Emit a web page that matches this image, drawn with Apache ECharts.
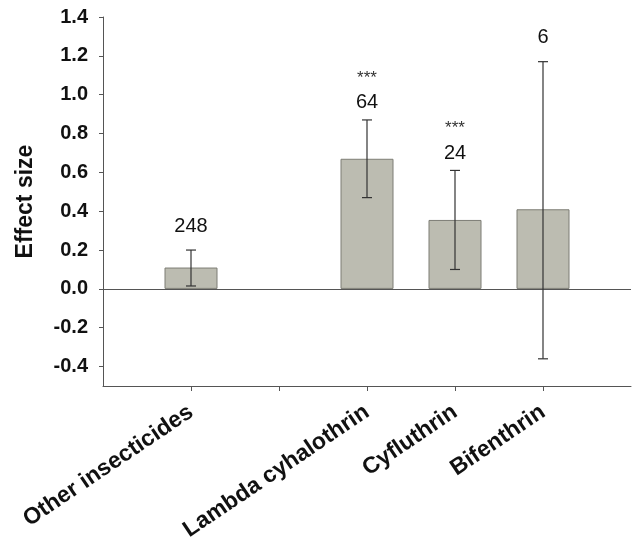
<!DOCTYPE html>
<html>
<head>
<meta charset="utf-8">
<script src="https://cdn.jsdelivr.net/npm/echarts@6/dist/echarts.min.js"></script>
<style>
html,body{margin:0;padding:0;background:#fff;}
#chart{width:635px;height:541px;}
</style>
</head>
<body>
<div id="chart"></div>
<script>
const categories = ['', 'Other insecticides', '', 'Lambda cyhalothrin', 'Cyfluthrin', 'Bifenthrin', ''];
const effect = [null, 0.11, null, 0.67, 0.355, 0.41, null];
const ciLow = [null, 0.015, null, 0.47, 0.10, -0.36, null];
const ciHigh = [null, 0.20, null, 0.87, 0.61, 1.17, null];
const nStudies = ['', '248', '', '64', '24', '6', ''];
const signif = ['', '', '', '***', '***', '', ''];
const yTicks = [-0.4, -0.2, 0.0, 0.2, 0.4, 0.6, 0.8, 1.0, 1.2, 1.4];

const FONT = 'Liberation Sans, Arial, sans-serif';
const chart = echarts.init(document.getElementById('chart'), null, {renderer: 'canvas'});

const errData = [];
const lblData = [];
categories.forEach((c, i) => {
  if (effect[i] !== null) {
    errData.push([i, ciLow[i], ciHigh[i]]);
    lblData.push([i, ciHigh[i], nStudies[i], signif[i]]);
  }
});

chart.setOption({
  animation: false,
  backgroundColor: '#fff',
  grid: {left: 103, right: 4, top: 17, bottom: 155, containLabel: false, outerBoundsMode: 'none'},
  xAxis: {
    type: 'category',
    data: categories,
    boundaryGap: false,
    axisLine: {onZero: false, lineStyle: {color: '#555', width: 1}},
    axisTick: {show: true, length: 5, interval: (idx) => idx > 0 && idx < categories.length - 1, lineStyle: {color: '#555'}},
    axisLabel: {
      interval: 0, rotate: 34, margin: 24,
      fontFamily: FONT, fontWeight: 'bold', fontSize: 23, color: '#111'
    },
    splitLine: {show: false}
  },
  yAxis: {
    type: 'value',
    min: -0.5, max: 1.4,
    name: 'Effect size',
    nameLocation: 'middle',
    nameGap: 66,
    nameTextStyle: {fontFamily: FONT, fontWeight: 'bold', fontSize: 23, color: '#111'},
    axisLine: {show: true, lineStyle: {color: '#555', width: 1}},
    axisTick: {show: true, length: 4, customValues: yTicks, lineStyle: {color: '#555'}},
    axisLabel: {
      customValues: yTicks, margin: 15,
      formatter: (v) => Number(v).toFixed(1),
      fontFamily: FONT, fontWeight: 'bold', fontSize: 20, color: '#111'
    },
    splitLine: {show: false}
  },
  series: [
    {
      type: 'bar',
      data: effect,
      barWidth: 53,
      itemStyle: {color: '#bcbcb1', borderColor: '#7d7d75', borderWidth: 1},
      markLine: {
        silent: true,
        symbol: ['none', 'none'],
        label: {show: false},
        lineStyle: {color: '#555', type: 'solid', width: 1},
        data: [{yAxis: 0}]
      },
      z: 2
    },
    {
      type: 'custom',
      data: errData,
      z: 5,
      renderItem: function (params, api) {
        const x = api.value(0);
        const lo = api.coord([x, api.value(1)]);
        const hi = api.coord([x, api.value(2)]);
        const cap = 5;
        const style = {stroke: '#333', lineWidth: 1.2};
        return {
          type: 'group',
          children: [
            {type: 'line', shape: {x1: lo[0], y1: lo[1], x2: hi[0], y2: hi[1]}, style},
            {type: 'line', shape: {x1: lo[0] - cap, y1: lo[1], x2: lo[0] + cap, y2: lo[1]}, style},
            {type: 'line', shape: {x1: hi[0] - cap, y1: hi[1], x2: hi[0] + cap, y2: hi[1]}, style}
          ]
        };
      }
    },
    {
      type: 'custom',
      data: lblData,
      z: 6,
      renderItem: function (params, api) {
        const idx = params.dataIndex;
        const d = lblData[idx];
        const p = api.coord([d[0], d[1]]);
        const hasStar = d[3] !== '';
        const off = hasStar ? 17 : 24;
        const children = [{
          type: 'text',
          style: {x: p[0], y: p[1] - off, text: d[2], align: 'center', verticalAlign: 'middle',
            font: 'normal 20px ' + FONT, fill: '#111'}
        }];
        if (hasStar) {
          children.push({
            type: 'text',
            style: {x: p[0], y: p[1] - off - 25, text: d[3], align: 'center', verticalAlign: 'middle',
              font: 'normal 17px ' + FONT, fill: '#333'}
          });
        }
        return {type: 'group', children};
      }
    }
  ]
});
</script>
</body>
</html>
